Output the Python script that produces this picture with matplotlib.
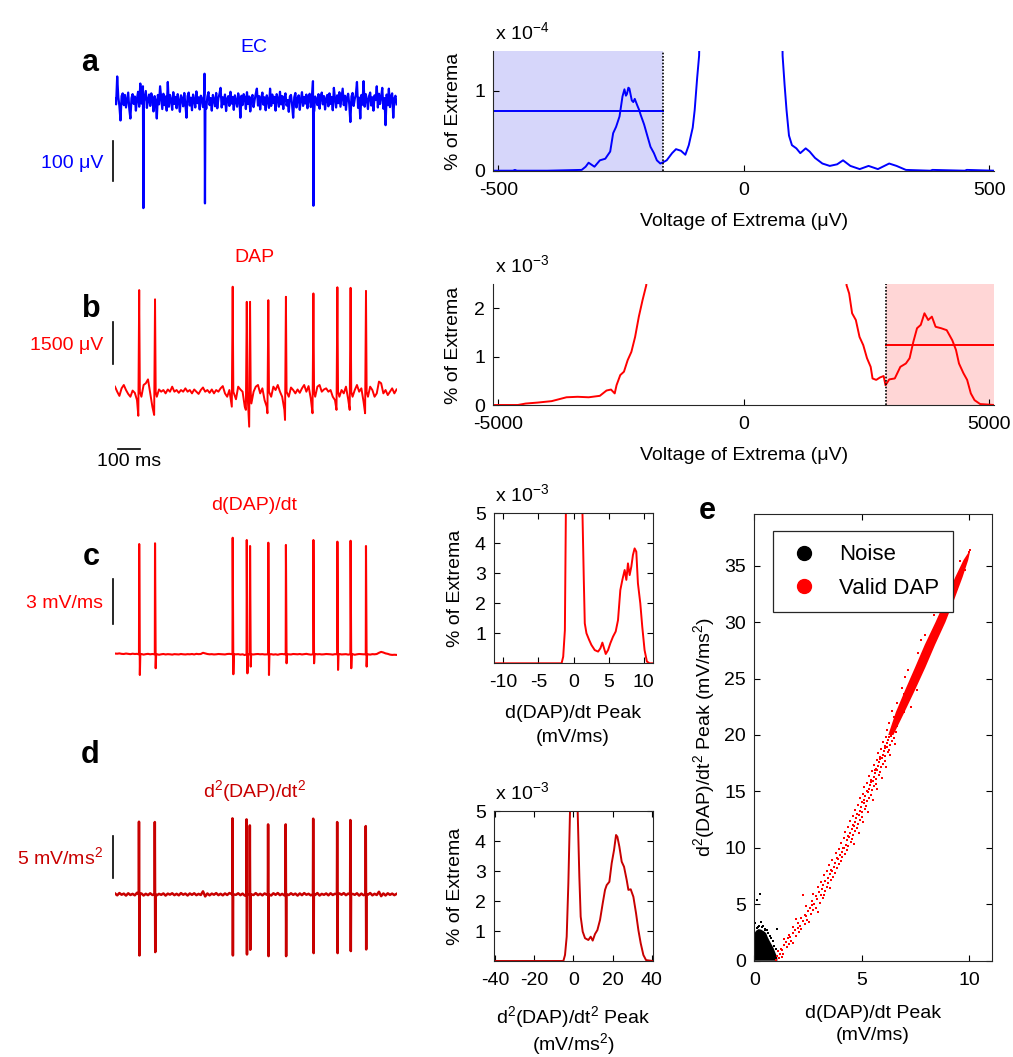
import numpy as np
import matplotlib
matplotlib.use("Agg")
import matplotlib.pyplot as plt
from matplotlib.lines import Line2D

# figure size in pixels, saved at 100 dpi
FIG_W, FIG_H = 1013, 1057

BLUE = "#0000ff"
RED = "#ff0000"
DARK_RED = "#c80000"
BLUE_SHADE = "#d6d6fa"
RED_SHADE = "#ffd6d6"
SPINE = "#262626"
FONT_SIZE = 14
LETTER_SIZE = 22

# ---- traces (a-d) -------------------------------------------------------
TRACE_MS = 1282
SPIKE_MS = np.array([110, 182, 535, 599, 614, 697, 777, 902, 1011, 1071, 1141])

# a: extracellular signal, uV, one sample every 5 ms
EC_STEP_MS = 5
EC_NOISE_UV = np.array([
    8, -6, 65, 12, -10, -47, 15, 22, -8, 18, -14, 6, 24, -18, -42, 10,
    20, -5, 14, -22, 9, 26, -12, 47, -4, 16, -20, 12, 28, -15, 5, 19,
    -10, 22, 7, -24, 15, 4, -42, 18, -6, 40, 10, -18, 21, -8, 14, -22,
    51, -12, 18, 6, -20, 25, -5, 13, -16, 20, 2, -25, 17, 9, -11, 23,
    -6, -40, 15, 24, -9, 11, -21, 19, 5, -14, 27, -3, 12, -19, 16, 8,
    -13, 20, 0, -17, 14, 25, -8, 10, -22, 18, 6, -11, 23, -16, 9, 21,
    36, -14, 12, -6, 19, -23, 8, 15, -10, 26, -4, 13, -20, 17, 3, -12,
    22, 7, -40, 16, -8, 20, 11, -18, 25, -5, 14, -24, 9, 18, -13, 6,
    21, 34, -9, 15, -19, 10, 24, -7, 12, -21, 17, 4, -15, 34, -10, 19,
    -3, 13, -22, 20, 8, -12, 26, -6, 15, -18, 11, 22, -9, 5, -25, 14,
    18, -7, -40, 12, 23, -14, 9, 17, -20, 6, 25, -10, 13, -4, 19, -16,
    10, 21, -13, 7, 16, -24, 14, 5, -8, 20, -17, 11, 24, -6, 15, -19,
    8, 18, -11, 22, -5, 13, -21, 36, 9, -14, 17, -3, 25, -12, 10, 34,
    -8, 16, -20, 12, 21, -6, -51, 14, 23, -10, 8, 19, 51, -15, 11, -42,
    18, -7, 53, -12, 20, 6, -18, 15, 24, -9, 12, -22, 17, 5, 40, -14,
    21, -5, 13, 36, -17, 10, -59, 19, -8, 34, -13, 15, 22, -40, 9, 16,
    -6,
])
EC_SPIKE_MS = np.array([129, 409, 902])
EC_SPIKE_UP_UV = np.array([40, 72, 53])
EC_SPIKE_DOWN_UV = np.array([-270, -258, -264])

# b: DAP signal, uV, one sample every 10 ms
DAP_STEP_MS = 10
DAP_BASE_UV = np.array([
    180, 0, -150, 120, 240, 60, -80, -180, 40, -40,
    -300, 0, -180, 240, 300, 440, -60, -540, 0, -180,
    80, 0, 60, -60, 80, 0, 180, 0, 60, -40,
    60, 0, 120, 0, 60, -60, 80, 0, -80, 60,
    150, 0, 60, -40, 80, -60, 60, 0, 120, 200,
    -60, -180, 60, -480, 0, -270, 180, 80, 0, -540,
    0, 0, -420, 0, 180, 240, -60, 120, -300, -540,
    0, -180, 180, 60, 240, 0, -180, -650, 0, -180,
    150, 60, -60, 80, -40, 120, 240, 0, 200, -240,
    0, -180, 180, 240, 0, 80, 120, 0, 60, -180,
    -300, 0, -180, 60, -60, 180, -270, 0, -180, 60,
    240, 0, 120, -360, 0, -180, 180, 60, -180, -60,
    360, 300, -60, 60, -120, 0, 120, -60, 80,
])
DAP_PEAK_UV = np.array([3630, 3300, 3750, 3210, 3210, 3270, 3390, 3510, 3730, 3710, 3600])
DAP_TROUGH_UV = np.array([-860, -830, -535, -650, -1250, -770, -1010, -770, -650, -650, -770])

# c: first derivative, mV/ms, one sample every 10 ms
DDT_STEP_MS = 10
DDT_BASE = np.array([
    0.05, 0.04, 0.06, 0.03, 0.02, 0.05, 0.03, 0.01, 0.04, 0.02, 0.03, 0.00, 0.02, -0.02, 0.01, 0.03,
    0.00, 0.02, -0.01, 0.01, -0.03, 0.00, 0.02, -0.01, 0.01, 0.00, -0.02, 0.01, 0.00, -0.01, 0.02, 0.00,
    -0.01, 0.01, 0.00, 0.02, -0.01, 0.03, 0.01, 0.02, 0.10, 0.06, 0.02, 0.00, 0.01, -0.01, 0.00, 0.02,
    0.01, 0.00, -0.01, 0.02, 0.03, -0.04, 0.02, 0.00, 0.01, -0.02, 0.00, -0.05, 0.00, 0.01, 0.02, -0.01,
    0.01, 0.02, 0.00, 0.01, -0.01, 0.00, 0.02, 0.01, -0.02, 0.00, -0.03, 0.01, 0.02, 0.00, 0.01, 0.00,
    -0.01, 0.02, 0.01, 0.00, 0.02, -0.01, 0.01, 0.03, 0.00, -0.02, 0.01, 0.02, 0.00, 0.01, -0.01, 0.00,
    0.02, 0.01, 0.00, -0.02, 0.01, 0.00, 0.02, -0.01, 0.00, 0.01, -0.02, 0.00, 0.01, -0.03, 0.00, 0.02,
    0.01, 0.00, -0.01, 0.00, -0.02, 0.01, 0.00, 0.02, 0.10, 0.16, 0.12, 0.06, 0.03, -0.02, -0.04, -0.03,
    -0.04,
])
DDT_PEAK = np.array([7.35, 7.40, 7.77, 7.62, 7.22, 7.44, 7.29, 7.62, 7.51, 7.57, 7.22])
DDT_TROUGH = np.array([-1.38, -0.93, -1.33, -1.27, -0.82, -1.38, -0.60, -0.60, -1.04, -0.93, -0.82])

# d: second derivative, mV/ms^2, one sample every 10 ms
D2_STEP_MS = 10
D2_BASE = np.array([
    0.10, -0.12, 0.15, -0.05, 0.08, -0.15, 0.12, -0.08, 0.05, -0.12, 0.18, -0.06, 0.10, -0.14, 0.06, -0.10,
    0.12, -0.08, 0.15, -0.12, 0.05, -0.06, 0.10, -0.15, 0.08, -0.04, 0.12, -0.10, 0.06, -0.12, 0.14, -0.05,
    0.08, -0.14, 0.10, -0.06, 0.12, -0.10, 0.05, -0.08, 0.35, -0.25, 0.10, -0.12, 0.08, -0.05, 0.14, -0.10,
    0.06, -0.12, 0.10, -0.08, 0.15, -0.14, 0.05, -0.06, 0.12, -0.10, 0.08, -0.15, 0.10, -0.05, 0.12, -0.08,
    0.14, -0.10, 0.06, -0.12, 0.10, -0.05, 0.08, -0.14, 0.12, -0.06, 0.15, -0.10, 0.05, -0.12, 0.10, -0.08,
    0.12, -0.06, 0.08, -0.15, 0.10, -0.10, 0.14, -0.05, 0.06, -0.12, 0.10, -0.08, 0.15, -0.14, 0.05, -0.06,
    0.10, -0.12, 0.12, -0.08, 0.06, -0.14, 0.10, -0.05, 0.14, -0.10, 0.08, -0.12, 0.05, -0.06, 0.12, -0.15,
    0.08, -0.10, 0.12, -0.05, 0.15, -0.12, 0.06, -0.08, 0.30, -0.22, 0.10, -0.14, 0.12, -0.06, 0.08, -0.10,
    0.05,
])
D2_PEAK = np.array([8.64, 8.60, 9.04, 8.92, 8.20, 8.32, 8.32, 9.00, 8.60, 8.84, 8.12])
D2_TROUGH = np.array([-7.28, -6.88, -7.28, -7.16, -6.60, -7.36, -7.36, -7.00, -7.00, -6.76, -6.56])

# ---- extrema histograms ---------------------------------------------------
HIST_A_UV = [-510, -470, -466, -462, -400, -330, -322, -316, -304, -293, -282, -272, -266,
             -260, -253, -247, -243, -240, -238, -235, -233, -228, -225, -222, -217, -213,
             -210, -203, -197, -190, -183, -177, -170, -163, -157, -146, -138, -128, -119,
             -112, -104, -100, -95, -91, -86, 76, 79, 83, 87, 92, 98, 107, 115, 126, 134,
             145, 160, 175, 190, 202, 217, 236, 254, 273, 296, 311, 330, 380, 384, 450, 454,
             510]
HIST_A_PCT = [0, 0, 0.01, 0, 0, 0.01, 0.05, 0.10, 0.05, 0.13, 0.15, 0.24, 0.47,
              0.55, 0.68, 0.93, 1.02, 0.94, 0.96, 1.04, 1.03, 0.88, 0.86, 0.90, 0.82, 0.76,
              0.70, 0.58, 0.45, 0.30, 0.22, 0.13, 0.09, 0.11, 0.13, 0.22, 0.27, 0.25, 0.20,
              0.32, 0.54, 0.76, 1.16, 1.44, 3.0, 3.0, 1.44, 1.08, 0.76, 0.44, 0.32, 0.28, 0.22,
              0.28, 0.24, 0.16, 0.09, 0.06, 0.08, 0.13, 0.06, 0.02, 0.06, 0.02, 0.09, 0.06,
              0.01, 0, 0.01, 0, 0.01, 0]
EC_THRESH_UV = -165
EC_MEAN_PCT = 0.75

HIST_B_UV = [-5100, -4600, -4441, -4200, -3912, -3761, -3610, -3384, -3157, -2931, -2795,
             -2704, -2628, -2591, -2515, -2440, -2364, -2289, -2213, -2137, -2062, -1986,
             -1900, 2050, 2092, 2145, 2205, 2281, 2356, 2432, 2508, 2583, 2621, 2696, 2772,
             2847, 2885, 2961, 3074, 3187, 3300, 3376, 3452, 3527, 3603, 3678, 3754, 3829,
             3905, 4018, 4131, 4245, 4320, 4381, 4471, 4547, 4622, 4698, 4811, 5100]
HIST_B_PCT = [0, 0, 0.03, 0.05, 0.08, 0.12, 0.16, 0.17, 0.16, 0.19, 0.30,
              0.32, 0.24, 0.41, 0.62, 0.69, 0.93, 1.10, 1.41, 1.83, 2.17, 2.48,
              4.0, 4.0, 2.48, 2.31, 1.90, 1.76, 1.41, 1.24, 0.97, 0.79, 0.55, 0.52, 0.57,
              0.60, 0.41, 0.53, 0.55, 0.79, 0.86, 0.97, 1.31, 1.59, 1.66, 1.90, 1.76, 1.83,
              1.62, 1.59, 1.55, 1.34, 1.14, 0.86, 0.66, 0.52, 0.24, 0.10, 0.02, 0]
DAP_THRESH_UV = 2900
DAP_MEAN_PCT = 1.25

HIST_C_X = [-11.3, -1.7, -1.47, -1.23, -1.09, -0.9, 1.1, 1.28, 1.47, 1.61, 1.85, 2.23, 2.56,
            3.03, 3.51, 3.84, 4.12, 4.36, 4.60, 4.93, 5.26, 5.64, 6.02, 6.35, 6.68, 6.97,
            7.30, 7.54, 7.77, 8.01, 8.25, 8.48, 8.72, 8.96, 9.19, 9.53, 9.81, 10.14, 10.47,
            10.85, 11.3]
HIST_C_PCT = [0, 0, 0.22, 1.10, 5.0, 8.0, 8.0, 5.0, 2.78, 1.33, 1.00, 0.78, 0.61,
              0.44, 0.39, 0.50, 0.69, 0.50, 0.31, 0.44, 0.67, 0.89, 1.06, 1.44, 2.44, 2.78,
              3.11, 2.78, 3.33, 2.94, 3.22, 3.61, 3.83, 3.72, 2.67, 2.00, 1.22, 0.44, 0.06,
              0, 0]

HIST_D_X = [-40.5, -5.1, -4.26, -3.4, -2.55, -1.7, -1.0, 1.5, 2.2, 3.06, 3.74, 4.77, 5.96,
            7.66, 8.85, 9.87, 11.06, 12.26, 13.62, 14.98, 16.17, 17.02, 18.38, 19.57, 20.77,
            21.79, 22.47, 23.49, 24.68, 25.87, 27.23, 28.09, 29.28, 30.64, 32.0, 33.19,
            34.38, 35.74, 37.1, 40.5]
HIST_D_PCT = [0, 0, 0.20, 0.81, 2.59, 5.0, 8.0, 8.0, 5.0, 2.81, 1.48, 0.98, 0.76,
              0.70, 0.81, 0.68, 0.90, 1.03, 1.37, 1.92, 2.37, 2.53, 2.64, 3.26, 3.70,
              4.20, 4.14, 3.81, 3.31, 3.14, 2.70, 2.37, 2.39, 2.14, 1.59, 1.03,
              0.59, 0.20, 0.03, 0]

# ---- e: peak scatter ------------------------------------------------------
NOISE_CORE_X = [0, 0, 0.08, 0.20, 0.32, 0.45, 0.55, 0.62, 0.70, 0.80, 0.90, 0.98, 1.06, 1.08, 0]
NOISE_CORE_Y = [0, 2.40, 2.65, 2.80, 2.75, 2.60, 2.45, 2.10, 1.80, 1.45, 1.10, 0.70, 0.35, 0, 0]
NOISE_DOT_X = [0.05, 0.11, 0.27, 0.15, 0.35, 0.48, 0.60, 0.72, 0.85, 0.93, 0.66, 0.52, 0.22,
               0.40, 0.78, 1.00, 1.04, 0.30, 0.12]
NOISE_DOT_Y = [3.30, 5.40, 5.90, 3.00, 2.95, 2.85, 2.70, 2.20, 1.75, 1.30, 2.45, 2.75, 3.05,
               3.10, 2.00, 1.00, 2.80, 3.40, 2.90]

DAP_DOT_X = [
    1.00, 1.15, 1.06, 1.28, 1.19, 1.35, 1.10, 1.30,
    1.25, 1.52, 1.38, 1.60, 1.47, 1.72, 1.36, 1.58, 1.80,
    1.66, 1.93, 1.78, 2.08, 1.90, 2.16, 1.82, 2.04, 1.60,
    2.12, 2.35, 2.01, 2.27, 2.46, 2.18, 2.40, 2.55, 1.95,
    2.38, 2.62, 2.49, 2.75, 2.58, 2.88, 2.70, 2.42, 2.95, 2.28,
    2.80, 3.05, 2.68, 2.93, 3.18, 2.86, 3.10, 2.75, 3.25,
    3.02, 3.30, 3.14, 2.95, 3.38, 3.21, 3.45, 3.08, 3.50,
    3.28, 3.55, 3.41, 3.66, 3.22, 3.50, 3.74, 3.38, 3.60,
    3.58, 3.85, 3.70, 3.48, 3.94, 3.76, 4.02, 3.63, 3.88,
    3.86, 4.10, 3.97, 4.22, 3.80, 4.06, 4.30, 3.93, 4.18,
    4.12, 4.38, 4.25, 4.02, 4.48, 4.31, 4.55, 4.18, 4.42, 4.62,
    4.35, 4.60, 4.46, 4.24, 4.70, 4.53, 4.78, 4.38, 4.64, 4.85,
    4.58, 4.82, 4.67, 4.45, 4.92, 4.74, 4.99, 4.60, 4.86, 5.06,
    4.78, 5.03, 4.90, 4.68, 5.14, 4.96, 5.21, 4.83, 5.08, 5.28,
    4.99, 5.24, 5.10, 4.90, 5.35, 5.17, 5.42, 5.04, 5.30, 5.50,
    5.22, 5.47, 5.33, 5.12, 5.57, 5.39, 5.64, 5.26, 5.51, 5.70, 5.44,
    5.43, 5.68, 5.55, 5.34, 5.78, 5.60, 5.85, 5.48, 5.72, 5.92, 5.63,
    5.64, 5.89, 5.76, 5.55, 6.00, 5.82, 6.06, 5.69, 5.94, 6.12, 5.85,
    5.86, 6.10, 5.97, 5.76, 6.22, 6.03, 6.27, 5.90, 6.15, 6.33, 6.06,
    6.07, 6.31, 6.18, 5.98, 6.42, 6.24, 6.48, 6.11, 6.36, 6.55, 6.28,
    6.15, 6.62, 6.28, 6.48, 6.95, 6.62, 7.12, 6.85, 7.45, 7.02, 7.15, 7.82, 7.60, 8.28,
    7.75, 7.92, 8.70, 8.35, 9.05, 8.52, 8.80, 9.42, 9.20, 9.80, 9.55, 10.00, 10.05,
    6.58, 6.40, 7.30, 6.95, 7.58,
]
DAP_DOT_Y = [
    0.05, 0.22, 0.41, 0.33, 0.63, 0.58, 0.84, 0.95,
    1.08, 1.18, 1.41, 1.49, 1.66, 1.74, 1.88, 1.97, 1.60,
    2.07, 2.21, 2.44, 2.52, 2.71, 2.79, 2.96, 2.90, 2.30,
    3.04, 3.22, 3.37, 3.51, 3.60, 3.79, 3.93, 3.40, 3.70,
    4.06, 4.15, 4.38, 4.47, 4.66, 4.71, 4.90, 4.82, 4.30, 5.80,
    5.03, 5.14, 5.31, 5.46, 5.52, 5.71, 5.86, 5.95, 5.78,
    6.09, 6.18, 6.36, 6.52, 6.57, 6.74, 6.86, 6.93, 6.40,
    7.06, 7.12, 7.33, 7.45, 7.58, 7.66, 7.80, 7.92, 7.97,
    8.04, 8.19, 8.31, 8.47, 8.55, 8.69, 8.83, 8.90, 8.98,
    9.07, 9.16, 9.34, 9.45, 9.58, 9.64, 9.79, 9.88, 9.96,
    10.03, 10.12, 10.29, 10.44, 10.51, 10.68, 10.77, 10.85, 10.96, 10.30,
    11.06, 11.17, 11.30, 11.43, 11.52, 11.66, 11.74, 11.83, 11.95, 11.28,
    12.02, 12.11, 12.27, 12.42, 12.49, 12.63, 12.76, 12.84, 12.95, 12.33,
    13.04, 13.14, 13.26, 13.39, 13.48, 13.62, 13.73, 13.81, 13.94, 13.20,
    14.03, 14.13, 14.27, 14.41, 14.46, 14.60, 14.72, 14.81, 14.93, 14.20,
    15.02, 15.11, 15.24, 15.37, 15.45, 15.58, 15.70, 15.79, 15.92, 15.18, 15.83,
    16.04, 16.12, 16.26, 16.38, 16.47, 16.59, 16.71, 16.80, 16.93, 16.22, 16.86,
    17.03, 17.12, 17.25, 17.37, 17.46, 17.58, 17.69, 17.79, 17.92, 17.20, 17.85,
    18.03, 18.12, 18.25, 18.38, 18.46, 18.58, 18.70, 18.79, 18.92, 18.20, 18.86,
    19.03, 19.12, 19.25, 19.38, 19.46, 19.58, 19.70, 19.79, 19.92, 19.20, 19.86,
    20.40, 20.80, 21.10, 21.60, 22.00, 22.80, 23.30, 24.20, 24.60, 25.10, 25.80, 26.20, 27.30, 27.90,
    28.40, 28.90, 29.50, 30.60, 31.00, 31.80, 32.30, 32.90, 34.00, 34.60, 35.40, 36.20, 36.40,
    20.30, 22.10, 22.50, 23.60, 24.00,
]
# dense part of the valid-DAP cloud: left/right edge at each height
DAP_BAND_Y = [20, 22, 24, 26, 28, 30, 32, 34, 35.5, 36.2]
DAP_BAND_LEFT = [6.23, 6.58, 7.02, 7.48, 7.93, 8.43, 8.90, 9.35, 9.73, 9.97]
DAP_BAND_RIGHT = [6.47, 6.98, 7.48, 7.96, 8.41, 8.89, 9.30, 9.69, 9.95, 10.03]

plt.rcParams["font.family"] = ["Liberation Sans", "DejaVu Sans"]
plt.rcParams["mathtext.fontset"] = "custom"
plt.rcParams["mathtext.rm"] = "Liberation Sans"
plt.rcParams["mathtext.default"] = "regular"
plt.rcParams["axes.unicode_minus"] = False
plt.rcParams["axes.edgecolor"] = SPINE
plt.rcParams["axes.linewidth"] = 0.8


def px_axes(fig, left, top, right, bottom):
    """Axes placed by pixel edges (y measured from the top)."""
    return fig.add_axes([left / FIG_W, 1 - bottom / FIG_H,
                         (right - left) / FIG_W, (bottom - top) / FIG_H])


def px_text(fig, x, y, s, **kw):
    kw.setdefault("fontsize", FONT_SIZE)
    fig.text(x / FIG_W, 1 - y / FIG_H, s, **kw)


def build_trace(step, base, spike_t, shape_dt, shape_vals, guard):
    """Merge a sampled baseline with the spike waveforms."""
    base_t = np.arange(len(base)) * step
    keep = np.all(np.abs(base_t[:, None] - spike_t[None, :]) > guard, axis=1)
    t = [base_t[keep]]
    v = [np.asarray(base, dtype=float)[keep]]
    for dt, vals in zip(shape_dt, shape_vals):
        t.append(spike_t + dt)
        v.append(np.broadcast_to(vals, spike_t.shape))
    t = np.concatenate(t)
    v = np.concatenate(v)
    order = np.argsort(t, kind="stable")
    return t[order], v[order]


TRACE_LEFT, TRACE_RIGHT = 115, 397
BAR_MS = -7.7


def trace_axes(fig, top, bottom, base_px, px_per_unit):
    ax = px_axes(fig, TRACE_LEFT, top, TRACE_RIGHT, bottom)
    ax.set_xlim(0, TRACE_MS)
    ax.set_ylim(-(bottom - base_px) / px_per_unit, (base_px - top) / px_per_unit)
    ax.axis("off")
    return ax


def style_hist(ax, box):
    ax.tick_params(direction="in", length=4, width=0.8, labelsize=FONT_SIZE,
                   colors="k", top=box, right=box)
    ax.tick_params(axis="x", pad=8)
    ax.tick_params(axis="y", pad=6)
    for side in ("top", "right"):
        ax.spines[side].set_visible(box)


fig = plt.figure(figsize=(FIG_W / 100, FIG_H / 100), dpi=100)

# ---- a: EC trace ------------------------------------------------------------
ax = trace_axes(fig, 60, 230, 102, 0.393)
t, v = build_trace(EC_STEP_MS, EC_NOISE_UV, EC_SPIKE_MS, [-2, 0, 2],
                   [EC_SPIKE_UP_UV, EC_SPIKE_DOWN_UV, 0], 2.5)
ax.plot(t, v, color=BLUE, lw=1.6)
ax.plot([BAR_MS, BAR_MS], [-200, -100], color="k", lw=1.2, clip_on=False)
px_text(fig, 254, 48, "EC", color=BLUE, ha="center", va="center")
px_text(fig, 103, 163, "100 \u03bcV", color=BLUE, ha="right", va="center")
px_text(fig, 90, 63, "a", fontsize=LETTER_SIZE, fontweight="bold", ha="center", va="center")

# ---- b: DAP trace -----------------------------------------------------------
ax = trace_axes(fig, 270, 480, 391.7, 0.028)
t, v = build_trace(DAP_STEP_MS, DAP_BASE_UV, SPIKE_MS, [-4, 0, 3],
                   [DAP_TROUGH_UV, DAP_PEAK_UV, 0], 5)
ax.plot(t, v, color=RED, lw=1.4)
ax.plot([BAR_MS, BAR_MS], [1000, 2500], color="k", lw=1.2, clip_on=False)
ax.plot([15, 115], [-2050, -2050], color="k", lw=1.2, clip_on=False)
px_text(fig, 129, 462, "100 ms", ha="center", va="center")
px_text(fig, 254, 258, "DAP", color=RED, ha="center", va="center")
px_text(fig, 103, 345, "1500 \u03bcV", color=RED, ha="right", va="center")
px_text(fig, 91, 309, "b", fontsize=LETTER_SIZE, fontweight="bold", ha="center", va="center")

# ---- c: first derivative ----------------------------------------------------
ax = trace_axes(fig, 520, 690, 654.3, 15)
t, v = build_trace(DDT_STEP_MS, DDT_BASE, SPIKE_MS, [-1, 0, 3, 5],
                   [0, DDT_PEAK, DDT_TROUGH, 0], 6)
ax.plot(t, v, color=RED, lw=1.5)
ax.plot([BAR_MS, BAR_MS], [2, 5], color="k", lw=1.2, clip_on=False)
px_text(fig, 254, 505, "d(DAP)/dt", color=RED, ha="center", va="center")
px_text(fig, 103, 604, "3 mV/ms", color=RED, ha="right", va="center")
px_text(fig, 91, 557, "c", fontsize=LETTER_SIZE, fontweight="bold", ha="center", va="center")

# ---- d: second derivative ---------------------------------------------------
ax = trace_axes(fig, 810, 970, 894.3, 8.4)
t, v = build_trace(D2_STEP_MS, D2_BASE, SPIKE_MS, [-2, -1, 1, 2],
                   [0, D2_PEAK, D2_TROUGH, 0], 6)
ax.plot(t, v, color=DARK_RED, lw=1.8)
ax.plot([BAR_MS, BAR_MS], [2, 7], color="k", lw=1.2, clip_on=False)
px_text(fig, 254, 797, "d$^{2}$(DAP)/dt$^{2}$", color=DARK_RED, ha="center", va="baseline")
px_text(fig, 103, 864, "5 mV/ms$^{2}$", color=DARK_RED, ha="right", va="baseline")
px_text(fig, 90, 755, "d", fontsize=LETTER_SIZE, fontweight="bold", ha="center", va="center")

# ---- a: EC extrema histogram ------------------------------------------------
ax = px_axes(fig, 493.3, 51, 994.3, 170.7)
ax.axvspan(-510, EC_THRESH_UV, color=BLUE_SHADE, lw=0, zorder=0)
ax.plot(HIST_A_UV, HIST_A_PCT, color=BLUE, lw=1.4)
ax.plot([-510, EC_THRESH_UV], [EC_MEAN_PCT, EC_MEAN_PCT], color=BLUE, lw=1.4)
ax.axvline(EC_THRESH_UV, color="k", ls=(0, (1, 1)), lw=1.2)
ax.set_xlim(-510, 510)
ax.set_ylim(0, 1.5)
ax.set_xticks([-500, 0, 500])
ax.set_yticks([0, 1])
style_hist(ax, False)
px_text(fig, 495, 39, "x 10$^{-4}$", ha="left", va="baseline")
px_text(fig, 453, 111, "% of Extrema", rotation=90, ha="center", va="center")
px_text(fig, 744, 221, "Voltage of Extrema (\u03bcV)", ha="center", va="center")

# ---- b: DAP extrema histogram -----------------------------------------------
ax = px_axes(fig, 493.3, 284.3, 994.3, 405)
ax.axvspan(DAP_THRESH_UV, 5100, color=RED_SHADE, lw=0, zorder=0)
ax.plot(HIST_B_UV, HIST_B_PCT, color=RED, lw=1.4)
ax.plot([DAP_THRESH_UV, 5100], [DAP_MEAN_PCT, DAP_MEAN_PCT], color=RED, lw=1.4)
ax.axvline(DAP_THRESH_UV, color="k", ls=(0, (1, 1)), lw=1.2)
ax.set_xlim(-5100, 5100)
ax.set_ylim(0, 2.5)
ax.set_xticks([-5000, 0, 5000])
ax.set_yticks([0, 1, 2])
style_hist(ax, False)
px_text(fig, 495, 272, "x 10$^{-3}$", ha="left", va="baseline")
px_text(fig, 453, 345, "% of Extrema", rotation=90, ha="center", va="center")
px_text(fig, 744, 455, "Voltage of Extrema (\u03bcV)", ha="center", va="center")

# ---- c: derivative peak histogram -------------------------------------------
ax = px_axes(fig, 494.3, 513.3, 652.7, 663.3)
ax.plot(HIST_C_X, HIST_C_PCT, color=RED, lw=1.4)
ax.set_xlim(-11.3, 11.3)
ax.set_ylim(0, 5)
ax.set_xticks([-10, -5, 0, 5, 10])
ax.set_yticks([1, 2, 3, 4, 5])
style_hist(ax, True)
px_text(fig, 495, 501, "x 10$^{-3}$", ha="left", va="baseline")
px_text(fig, 455, 588, "% of Extrema", rotation=90, ha="center", va="center")
px_text(fig, 573, 713, "d(DAP)/dt Peak", ha="center", va="center")
px_text(fig, 573, 737, "(mV/ms)", ha="center", va="center")

# ---- d: second derivative peak histogram ------------------------------------
ax = px_axes(fig, 494, 811, 652.7, 961)
ax.plot(HIST_D_X, HIST_D_PCT, color=DARK_RED, lw=1.4)
ax.set_xlim(-40.5, 40.5)
ax.set_ylim(0, 5)
ax.set_xticks([-40, -20, 0, 20, 40])
ax.set_yticks([1, 2, 3, 4, 5])
style_hist(ax, True)
px_text(fig, 495, 799, "x 10$^{-3}$", ha="left", va="baseline")
px_text(fig, 455, 886, "% of Extrema", rotation=90, ha="center", va="center")
px_text(fig, 573, 1023, "d$^{2}$(DAP)/dt$^{2}$ Peak", ha="center", va="baseline")
px_text(fig, 573, 1050, "(mV/ms$^{2}$)", ha="center", va="baseline")

# ---- e: second vs first derivative peaks ------------------------------------
ax = px_axes(fig, 754.3, 513.8, 992.3, 960.7)
ax.fill(NOISE_CORE_X, NOISE_CORE_Y, color="k", lw=0)
ax.scatter(NOISE_DOT_X, NOISE_DOT_Y, s=2, c="k", marker="s", lw=0)
ax.fill(np.r_[DAP_BAND_LEFT, DAP_BAND_RIGHT[::-1]], np.r_[DAP_BAND_Y, DAP_BAND_Y[::-1]],
        color=RED, lw=0)
ax.scatter(DAP_DOT_X, DAP_DOT_Y, s=1.6, c=RED, marker="s", lw=0)
ax.set_xlim(0, 11.07)
ax.set_ylim(0, 39.6)
ax.set_xticks([0, 5, 10])
ax.set_yticks(np.arange(0, 36, 5))
style_hist(ax, True)
handles = [Line2D([], [], ls="none", marker="o", markersize=10, color="k", label="Noise"),
           Line2D([], [], ls="none", marker="o", markersize=10, color=RED, label="Valid DAP")]
leg = ax.legend(handles=handles, loc="upper left", bbox_to_anchor=(0.077, 0.9615),
                fontsize=16, frameon=True, fancybox=False, framealpha=1,
                edgecolor=SPINE, borderpad=0.6, labelspacing=0.55, handletextpad=0.8,
                borderaxespad=0, handlelength=1.6)
leg.get_frame().set_linewidth(0.9)
px_text(fig, 704, 737, "d$^{2}$(DAP)/dt$^{2}$ Peak (mV/ms$^{2}$)", rotation=90,
        ha="center", va="center")
px_text(fig, 873, 1013, "d(DAP)/dt Peak", ha="center", va="center")
px_text(fig, 873, 1036, "(mV/ms)", ha="center", va="center")
px_text(fig, 707, 511, "e", fontsize=LETTER_SIZE, fontweight="bold", ha="center", va="center")

fig.savefig("out.png", dpi=100)
